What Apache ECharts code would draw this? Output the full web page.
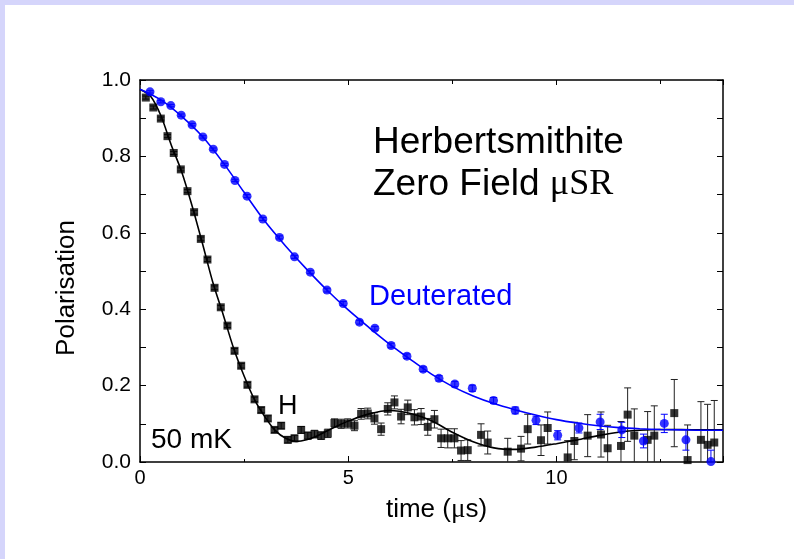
<!DOCTYPE html>
<html>
<head>
<meta charset="utf-8">
<script src="https://cdn.jsdelivr.net/npm/echarts@6/dist/echarts.min.js"></script>
<style>
  html, body { margin: 0; padding: 0; background: #ffffff; }
  #chart { width: 794px; height: 559px; }
</style>
</head>
<body>
<div id="chart"></div>
<script>
// ---- Data ----
// H (protonated) sample: time (µs), polarisation, error
const hTime = [0.14,0.32,0.50,0.66,0.81,0.98,1.14,1.30,1.46,1.62,1.79,1.94,2.10,2.27,2.43,2.58,2.75,2.91,3.07,3.23,3.39,3.55,3.71,3.87,4.03,4.19,4.35,4.51,4.67,4.83,4.99,5.15,5.31,5.47,5.63,5.79,5.95,6.11,6.27,6.43,6.59,6.75,6.91,7.07,7.23,7.39,7.55,7.71,7.87,8.19,8.35,8.83,9.15,9.31,9.63,9.79,10.27,10.43,10.75,11.07,11.23,11.55,11.71,11.87,12.19,12.35,12.83,13.15,13.47,13.63,13.79];
const hPol  = [0.954,0.928,0.899,0.853,0.809,0.766,0.709,0.654,0.584,0.530,0.456,0.405,0.357,0.291,0.252,0.202,0.164,0.136,0.114,0.084,0.095,0.058,0.062,0.084,0.069,0.073,0.069,0.075,0.102,0.100,0.101,0.095,0.126,0.127,0.114,0.086,0.139,0.156,0.119,0.143,0.117,0.119,0.092,0.112,0.062,0.062,0.062,0.030,0.031,0.071,0.051,0.027,0.035,0.086,0.057,0.089,0.012,0.055,0.069,0.072,0.036,0.042,0.124,0.069,0.058,0.069,0.128,0.005,0.058,0.045,0.051];
const hErr  = [0.004,0.004,0.004,0.004,0.004,0.004,0.004,0.005,0.005,0.005,0.005,0.005,0.005,0.006,0.006,0.006,0.006,0.007,0.007,0.007,0.008,0.008,0.008,0.009,0.009,0.010,0.010,0.011,0.011,0.012,0.012,0.013,0.014,0.014,0.015,0.016,0.016,0.017,0.019,0.019,0.020,0.021,0.022,0.023,0.024,0.025,0.025,0.026,0.027,0.029,0.030,0.035,0.032,0.039,0.040,0.042,0.044,0.049,0.055,0.059,0.060,0.064,0.070,0.070,0.074,0.078,0.088,0.092,0.100,0.106,0.110];

// Deuterated sample
const dTime = [0.24,0.50,0.74,0.99,1.25,1.51,1.76,2.03,2.28,2.57,2.95,3.35,3.71,4.09,4.49,4.88,5.27,5.64,6.03,6.41,6.80,7.18,7.56,7.98,8.49,9.01,9.51,10.03,10.54,11.05,11.57,12.09,12.59,13.11,13.71];
const dPol  = [0.969,0.943,0.933,0.908,0.883,0.851,0.819,0.779,0.737,0.696,0.636,0.588,0.537,0.497,0.450,0.415,0.366,0.350,0.305,0.277,0.243,0.219,0.204,0.193,0.161,0.135,0.109,0.070,0.089,0.105,0.084,0.055,0.101,0.058,0.001];
const dErr  = [0.003,0.003,0.003,0.003,0.003,0.003,0.003,0.003,0.003,0.004,0.004,0.004,0.004,0.004,0.005,0.005,0.005,0.005,0.006,0.006,0.006,0.007,0.007,0.008,0.008,0.009,0.011,0.012,0.013,0.020,0.020,0.018,0.024,0.027,0.030];

// Fit curves
const hFitTime = [0,0.25,0.5,0.75,1.0,1.25,1.5,1.75,2.0,2.25,2.5,2.75,3.0,3.25,3.5,3.75,4.0,4.25,4.5,4.75,5.0,5.5,6.0,6.5,7.0,7.5,8.0,8.5,9.0,9.5,10.0,10.5,11.0,11.5,12.0,12.5,13.0,13.5,14.0];
const hFitPol  = [0.975,0.958,0.907,0.830,0.760,0.671,0.572,0.470,0.385,0.297,0.225,0.163,0.118,0.082,0.062,0.054,0.058,0.068,0.082,0.095,0.107,0.126,0.135,0.127,0.108,0.078,0.053,0.037,0.033,0.039,0.048,0.058,0.069,0.078,0.083,0.085,0.085,0.084,0.084];
const dFitTime = [0,0.5,1.0,1.5,2.0,2.5,3.0,3.5,4.0,4.5,5.0,5.5,6.0,6.5,7.0,7.5,8.0,8.5,9.0,9.5,10.0,10.5,11.0,11.5,12.0,12.5,13.0,13.5,14.0];
const dFitPol  = [0.976,0.948,0.905,0.852,0.783,0.706,0.630,0.565,0.505,0.449,0.398,0.352,0.308,0.268,0.230,0.198,0.173,0.153,0.137,0.123,0.111,0.102,0.095,0.090,0.087,0.085,0.084,0.083,0.083];

// Axis tick labels
const xTickLabels = ['0','5','10'];
const yTickLabels = ['0.0','0.2','0.4','0.6','0.8','1.0'];

// ---- Build ----
const zip3 = (a,b,c) => a.map((v,i) => [v, b[i], c[i]]);
const zip2 = (a,b) => a.map((v,i) => [v, b[i]]);

const FONT = "'Liberation Sans', Arial, sans-serif";
const SERIF = "'Liberation Serif', 'Times New Roman', serif";
const BLUE = '#0000ff';

function errRender(color) {
  return function (params, api) {
    const x = api.value(0), y = api.value(1), e = api.value(2);
    const top = api.coord([x, y + e]);
    const bot = api.coord([x, y - e]);
    const hw = 3.5;
    const st = { stroke: color, lineWidth: 1 };
    return {
      type: 'group',
      children: [
        { type: 'line', shape: { x1: top[0], y1: top[1], x2: bot[0], y2: bot[1] }, style: st },
        { type: 'line', shape: { x1: top[0] - hw, y1: top[1], x2: top[0] + hw, y2: top[1] }, style: st },
        { type: 'line', shape: { x1: bot[0] - hw, y1: bot[1], x2: bot[0] + hw, y2: bot[1] }, style: st }
      ]
    };
  };
}

const axisLine = { show: true, onZero: false, lineStyle: { color: '#000', width: 1.5 } };

const chart = echarts.init(document.getElementById('chart'), null, { renderer: 'canvas' });
chart.setOption({
  backgroundColor: '#ffffff',
  animation: false,
  grid: { left: 140, top: 80, right: 71, bottom: 97, containLabel: false },
  xAxis: [
    {
      type: 'value', position: 'bottom', min: 0, max: 14, interval: 5,
      axisLine: axisLine,
      axisTick: { show: true, inside: true, length: 6, lineStyle: { color: '#000', width: 1 } },
      minorTick: { show: true, splitNumber: 2, length: 3, lineStyle: { color: '#000', width: 1 } },
      splitLine: { show: false },
      axisLabel: {
        color: '#000', fontSize: 20, fontFamily: FONT, margin: 6,
        formatter: v => { const s = String(Math.round(v)); return (Math.abs(v % 5) < 1e-6 && xTickLabels.indexOf(s) >= 0) ? s : ''; }
      },
      name: '{a|time (}{m|\u03bc}{a|s)}',
      nameLocation: 'middle', nameGap: 34,
      nameTextStyle: {
        padding: [0, 0, 0, 10],
        rich: {
          a: { fontSize: 26, fontFamily: FONT, color: '#000' },
          m: { fontSize: 27, fontFamily: SERIF, color: '#000' }
        }
      }
    },
    {
      type: 'value', position: 'top', min: 0, max: 14, interval: 5,
      axisLine: axisLine,
      axisTick: { show: true, inside: true, length: 5, lineStyle: { color: '#000', width: 1 } },
      minorTick: { show: true, splitNumber: 2, length: 4, lineStyle: { color: '#000', width: 1 } },
      splitLine: { show: false },
      axisLabel: { show: false }
    }
  ],
  yAxis: [
    {
      type: 'value', position: 'left', min: 0, max: 1, interval: 0.1,
      axisLine: axisLine,
      axisTick: { show: true, inside: true, length: 6, lineStyle: { color: '#000', width: 1 } },
      splitLine: { show: false },
      axisLabel: {
        color: '#000', fontSize: 21, fontFamily: FONT, margin: 9,
        formatter: v => { const s = v.toFixed(1); return yTickLabels.indexOf(s) >= 0 ? s : ''; }
      },
      name: 'Polarisation', nameLocation: 'middle', nameGap: 60,
      nameTextStyle: { fontSize: 26, fontFamily: FONT, color: '#000', padding: [0, 34, 0, 0] }
    },
    {
      type: 'value', position: 'right', min: 0, max: 1, interval: 0.1,
      axisLine: axisLine,
      axisTick: { show: true, inside: true, length: 6, lineStyle: { color: '#000', width: 1 } },
      splitLine: { show: false },
      axisLabel: { show: false }
    }
  ],
  series: [
    {
      name: 'H err', type: 'custom', xAxisIndex: 0, yAxisIndex: 0, clip: true,
      renderItem: errRender('#222'), data: zip3(hTime, hPol, hErr), z: 2
    },
    {
      name: 'H', type: 'scatter', xAxisIndex: 0, yAxisIndex: 0, symbol: 'rect', symbolSize: 8,
      itemStyle: { color: '#000' }, data: zip2(hTime, hPol), z: 3, clip: true
    },
    {
      name: 'H fit', type: 'line', xAxisIndex: 0, yAxisIndex: 0, showSymbol: false, smooth: 0.3,
      lineStyle: { color: '#000', width: 1.6 }, data: zip2(hFitTime, hFitPol), z: 4
    },
    {
      name: 'D err', type: 'custom', xAxisIndex: 0, yAxisIndex: 0, clip: true,
      renderItem: errRender(BLUE), data: zip3(dTime, dPol, dErr), z: 5
    },
    {
      name: 'Deuterated', type: 'scatter', xAxisIndex: 0, yAxisIndex: 0, symbol: 'circle', symbolSize: 9,
      itemStyle: { color: BLUE }, data: zip2(dTime, dPol), z: 6, clip: true
    },
    {
      name: 'D fit', type: 'line', xAxisIndex: 0, yAxisIndex: 0, showSymbol: false, smooth: 0.3,
      lineStyle: { color: BLUE, width: 1.6 }, data: zip2(dFitTime, dFitPol), z: 7
    }
  ],
  graphic: [
    { type: 'rect', left: 0, top: 0, shape: { width: 794, height: 5 }, style: { fill: '#d5d5fb' }, silent: true },
    { type: 'rect', left: 0, top: 0, shape: { width: 5, height: 559 }, style: { fill: '#d5d5fb' }, silent: true },
    { type: 'text', left: 373, top: 124, style: { text: 'Herbertsmithite', fontSize: 37, fontFamily: FONT, fill: '#000' } },
    { type: 'text', left: 373, top: 166, style: {
        text: '{a|Zero Field }{b|\u03bcSR}',
        rich: {
          a: { fontSize: 37, fontFamily: FONT, fill: '#000', color: '#000' },
          b: { fontSize: 36, fontFamily: SERIF, fill: '#000', color: '#000' }
        }
    } },
    { type: 'text', left: 369, top: 282, style: { text: 'Deuterated', fontSize: 29, fontFamily: FONT, fill: BLUE } },
    { type: 'text', left: 278, top: 393, style: { text: 'H', fontSize: 27, fontFamily: FONT, fill: '#000' } },
    { type: 'text', left: 151, top: 426, style: { text: '50 mK', fontSize: 28, fontFamily: FONT, fill: '#000' } }
  ]
});
</script>
</body>
</html>
